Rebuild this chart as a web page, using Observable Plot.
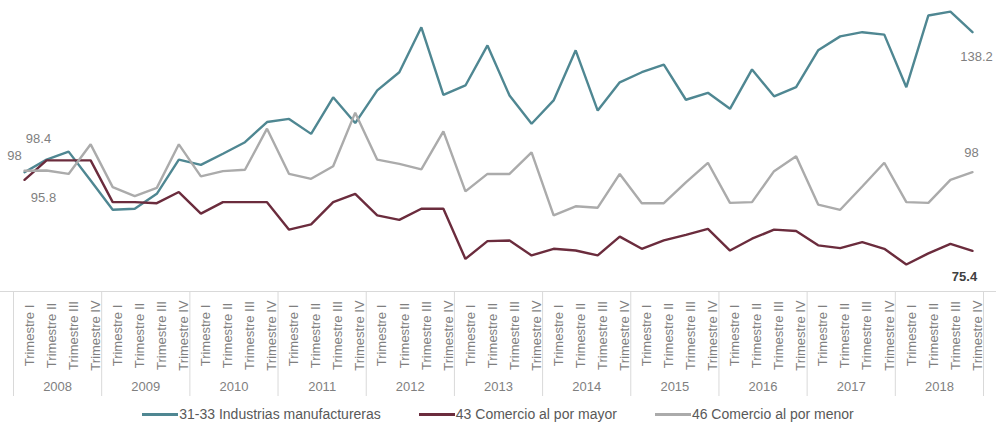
<!DOCTYPE html>
<html>
<head>
<meta charset="utf-8">
<script src="https://cdn.jsdelivr.net/npm/d3@7"></script>
<script src="https://cdn.jsdelivr.net/npm/@observablehq/plot@0.6"></script>
<style>
  html, body { margin: 0; padding: 0; background: #fff; }
  body { width: 996px; height: 424px; overflow: hidden; font-family: "Liberation Sans", Arial, sans-serif; }
  #chart svg { display: block; }
  #legend { display: flex; justify-content: center; align-items: center; gap: 38px; height: 22px; font-size: 14px; color: #595959; margin-top: 3px; }
  .item { display: flex; align-items: center; white-space: nowrap; }
  .sw { display: inline-block; width: 36px; height: 3px; margin-right: 1px; }
</style>
</head>
<body>
<div id="chart"></div>
<script>
const years = ["2008","2009","2010","2011","2012","2013","2014","2015","2016","2017","2018"];
const quarterNames = ["Trimestre I","Trimestre II","Trimestre III","Trimestre IV"];
const seriesNames = ["31-33 Industrias manufactureras","43 Comercio al por mayor","46 Comercio al por menor"];
const seriesColors = ["#4f8792","#6b2c3d","#ababab"];

const manufactureras = [98.0,101.6,103.9,95.6,87.2,87.5,91.8,101.6,100.1,103.3,106.6,112.4,
  113.3,109.0,119.5,112.1,121.5,126.7,139.6,120.2,122.9,134.4,120.0,111.9,
  118.6,133.0,115.7,123.8,126.7,128.9,118.8,120.8,116.2,127.5,119.8,122.4,
  133.0,137.0,138.2,137.5,122.4,143.0,144.1,138.2];
const porMayor = [95.8,101.4,101.4,101.4,89.4,89.4,89.1,92.3,86.1,89.4,89.4,89.4,
  81.5,83.0,89.4,91.8,85.6,84.3,87.5,87.5,73.1,78.2,78.4,74.1,
  76.0,75.5,74.1,79.5,76.0,78.4,80.0,81.7,75.5,78.9,81.5,81.1,
  77.0,76.2,77.9,76.0,71.5,74.7,77.4,75.4];
const porMenor = [98.4,98.5,97.5,106.0,93.7,91.1,93.5,106.0,96.8,98.3,98.7,110.5,
  97.5,96.1,99.7,115.1,101.6,100.4,98.8,109.7,92.5,97.5,97.5,103.7,
  85.6,88.2,87.8,97.5,89.1,89.1,95.1,100.7,89.2,89.4,98.3,102.6,
  88.7,87.2,93.9,100.7,89.4,89.2,95.8,98.0];

const seriesValues = [manufactureras, porMayor, porMenor];
const rows = [];
seriesValues.forEach((vals, s) => vals.forEach((v, i) => rows.push({i, value: v, series: seriesNames[s]})));

const quarterRows = [];
years.forEach((y, k) => quarterNames.forEach((q, j) => quarterRows.push({i: k * 4 + j, label: q})));
const yearRows = years.map((y, k) => ({pos: k * 4 + 1.5, label: y}));
const boundaries = d3.range(years.length + 1).map(k => k * 4 - 0.5);

const xScale = {type: "linear", domain: [-0.5, years.length * 4 - 0.5], range: [13, 983]};
const lastIdx = manufactureras.length - 1;
const pt = (arr, i) => [{i, value: arr[i]}];
const lab = (arr, i, opts) => Plot.text(pt(arr, i), {x: "i", y: "value", text: d => String(d.value), fontSize: 13, fill: "#7f7f7f", ...opts});

const linesPlot = Plot.plot({
  width: 996, height: 288,
  marginTop: 0, marginBottom: 0, marginLeft: 0, marginRight: 0,
  x: {...xScale, axis: null},
  y: {domain: [64.6, 147.3], axis: null},
  color: {domain: seriesNames, range: seriesColors},
  style: {fontFamily: "Liberation Sans, Arial, sans-serif", background: "transparent"},
  marks: [
    Plot.line(rows, {x: "i", y: "value", z: "series", stroke: "series", strokeWidth: 2.4, strokeLinejoin: "miter"}),
    lab(manufactureras, 0, {dx: -10, dy: -16}),
    lab(porMenor, 0, {dx: 14, dy: -32}),
    lab(porMayor, 0, {dx: 19, dy: 18}),
    lab(manufactureras, lastIdx, {dx: 4, dy: 25}),
    lab(porMenor, lastIdx, {dx: -1, dy: -19}),
    lab(porMayor, lastIdx, {dx: -8, dy: 26, fill: "#404040", fontWeight: "bold"})
  ]
});

const axisTable = Plot.plot({
  width: 996, height: 112,
  marginTop: 3, marginBottom: 4, marginLeft: 0, marginRight: 0,
  x: {...xScale, axis: null},
  y: {axis: null},
  style: {fontFamily: "Liberation Sans, Arial, sans-serif", background: "transparent"},
  marks: [
    Plot.frame({anchor: "top", stroke: "#d9d9d9"}),
    Plot.ruleX(boundaries, {stroke: "#d9d9d9"}),
    Plot.text(quarterRows, {x: "i", text: "label", frameAnchor: "top", dy: 44, rotate: -90, textAnchor: "middle", fontSize: 13, fill: "#7f7f7f"}),
    Plot.text(yearRows, {x: "pos", text: "label", frameAnchor: "bottom", dy: -6, fontSize: 13, fill: "#7f7f7f"})
  ]
});

const chart = document.getElementById("chart");
chart.appendChild(linesPlot);
chart.appendChild(axisTable);

const legend = document.createElement("div");
legend.id = "legend";
seriesNames.forEach((name, s) => {
  const item = document.createElement("span");
  item.className = "item";
  const sw = document.createElement("span");
  sw.className = "sw";
  sw.style.background = seriesColors[s];
  item.appendChild(sw);
  item.appendChild(document.createTextNode(name));
  legend.appendChild(item);
});
document.body.appendChild(legend);
</script>
</body>
</html>
